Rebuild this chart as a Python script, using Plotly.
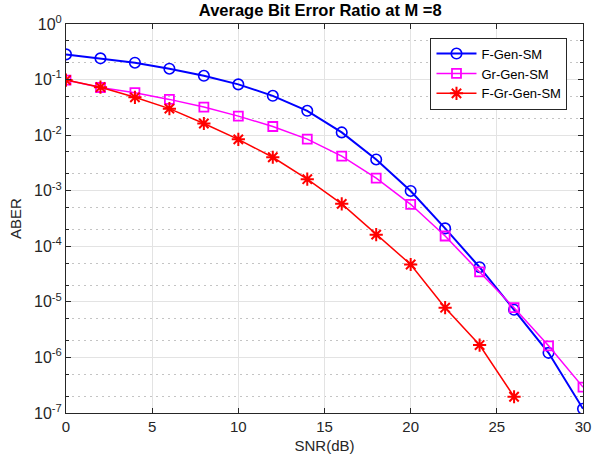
import plotly.graph_objects as go

snr = [0, 2, 4, 6, 8, 10, 12, 14, 16, 18, 20, 22, 24, 26, 28, 30]
snr_fgr = [0, 2, 4, 6, 8, 10, 12, 14, 16, 18, 20, 22, 24, 26]

f_gen_sm = [0.284, 0.241, 0.201, 0.157, 0.117, 0.082, 0.051, 0.0274, 0.0112,
            0.00365, 9.9e-4, 2.1e-4, 4.2e-5, 7.2e-6, 1.21e-6, 1.19e-7]
gr_gen_sm = [0.098, 0.072, 0.058, 0.044, 0.032, 0.022, 0.0143, 0.0085, 0.0042,
             0.00168, 5.7e-4, 1.53e-4, 3.45e-5, 7.85e-6, 1.62e-6, 2.92e-7]
f_gr_gen_sm = [0.098, 0.073, 0.048, 0.030, 0.0162, 0.0084, 0.0040, 0.00161,
               5.8e-4, 1.62e-4, 4.7e-5, 7.85e-6, 1.67e-6, 1.96e-7]

ytick_vals = [1e0, 1e-1, 1e-2, 1e-3, 1e-4, 1e-5, 1e-6, 1e-7]
ytick_text = ["10<sup>0</sup>", "10<sup>-1</sup>", "10<sup>-2</sup>", "10<sup>-3</sup>",
              "10<sup>-4</sup>", "10<sup>-5</sup>", "10<sup>-6</sup>", "10<sup>-7</sup>"]
xtick_vals = [0, 5, 10, 15, 20, 25, 30]

fig = go.Figure()
fig.add_trace(go.Scatter(
    x=snr, y=f_gen_sm, name="F-Gen-SM", mode="lines+markers",
    line=dict(color="#0000ff", width=2),
    marker=dict(symbol="circle-open", size=10.5, color="#0000ff", line=dict(width=1.6, color="#0000ff"))))
fig.add_trace(go.Scatter(
    x=snr, y=gr_gen_sm, name="Gr-Gen-SM", mode="lines+markers",
    line=dict(color="#ff00ff", width=1.5),
    marker=dict(symbol="square-open", size=9, color="#ff00ff", line=dict(width=1.8, color="#ff00ff"))))
fig.add_trace(go.Scatter(
    x=snr_fgr, y=f_gr_gen_sm, name="F-Gr-Gen-SM", mode="lines+markers",
    line=dict(color="#ff0000", width=1.5),
    marker=dict(symbol="asterisk-open", size=11, color="#ff0000", line=dict(width=2, color="#ff0000"))))

fig.update_layout(
    width=592, height=466,
    margin=dict(l=66, r=9, t=24, b=53),
    paper_bgcolor="white", plot_bgcolor="white",
    font=dict(family="Liberation Sans, Arial, sans-serif", size=14, color="#262626"),
    title=dict(text="<b>Average Bit Error Ratio at M =8</b>", x=0.541, xanchor="center",
               y=0.978, yanchor="middle", font=dict(size=16.5, color="#000000")),
    showlegend=True,
    legend=dict(x=0.705, y=0.965, xanchor="left", yanchor="top",
                bgcolor="white", bordercolor="#262626", borderwidth=1,
                font=dict(size=13, color="#000000"), tracegroupgap=0,
                itemwidth=40),
)
fig.update_xaxes(
    range=[0, 30], tickvals=xtick_vals, ticks="inside", ticklen=5,
    tickcolor="#262626", showgrid=True, gridcolor="#e3e3e3", gridwidth=1,
    showline=True, linecolor="#262626", linewidth=1, mirror="ticks",
    zeroline=False, automargin=False, tickfont=dict(size=15),
    title=dict(text="SNR(dB)", standoff=6, font=dict(size=15)),
)
fig.update_yaxes(
    type="log", range=[-7, 0], tickvals=ytick_vals, ticktext=ytick_text,
    ticks="inside", ticklen=5, tickcolor="#262626", tickfont=dict(size=16),
    showgrid=True, gridcolor="#e3e3e3", gridwidth=1,
    minor=dict(ticks="inside", ticklen=3, tickcolor="#262626", showgrid=True,
               gridcolor="#c4c4c4", griddash="2px,4px", gridwidth=1),
    showline=True, linecolor="#262626", linewidth=1, mirror="ticks",
    zeroline=False, automargin=False,
    title=dict(text="ABER", standoff=8, font=dict(size=15)),
)

fig.write_html("out.html", config={"displayModeBar": False},
               post_script="document.body.style.margin='0';document.body.style.overflow='hidden';")
